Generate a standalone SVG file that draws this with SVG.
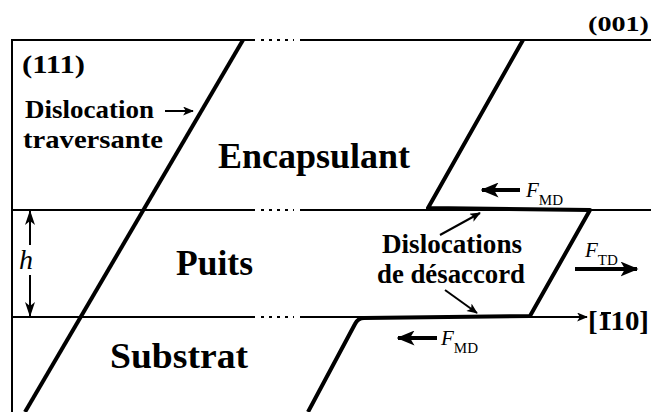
<svg xmlns="http://www.w3.org/2000/svg" width="651" height="412" viewBox="0 0 651 412">
<style>
.thin{stroke:#000;stroke-width:2;fill:none}
.dot{stroke:#000;stroke-width:2;fill:none;stroke-dasharray:3 5}
.disl{stroke:#000;stroke-width:4;fill:none;stroke-linejoin:round}
text{font-family:'Liberation Serif',serif}
.t{font-weight:bold;fill:#000}
.i{font-style:italic;fill:#000}
.s{fill:#000}
.force{stroke:#000;stroke-width:4;fill:none}
</style>
<defs>
<marker id="ah" viewBox="0 0 12 10" refX="11" refY="5" markerWidth="11" markerHeight="9" markerUnits="userSpaceOnUse" orient="auto"><path d="M0,0 L12,5 L0,10 L3,5 z" fill="#000"/></marker>
<marker id="ahb" viewBox="0 0 12 10" refX="11" refY="5" markerWidth="18" markerHeight="15" markerUnits="userSpaceOnUse" orient="auto"><path d="M0,0 L12,5 L0,10 L3,5 z" fill="#000"/></marker>
<marker id="ahn" viewBox="0 0 15 10" refX="14" refY="5" markerWidth="15" markerHeight="10" markerUnits="userSpaceOnUse" orient="auto"><path d="M0,0 L15,5 L0,10 L4,5 z" fill="#000"/></marker>
</defs>
<g id="frame">
<line class="thin" x1="12" y1="39" x2="12" y2="412"/>
<line class="thin" x1="11" y1="40" x2="255" y2="40"/>
<line class="dot" x1="261" y1="40" x2="294" y2="40"/>
<line class="thin" x1="300" y1="40" x2="651" y2="40"/>
<line class="thin" x1="11" y1="210" x2="255" y2="210"/>
<line class="dot" x1="261" y1="210" x2="294" y2="210"/>
<line class="thin" x1="300" y1="210" x2="651" y2="210"/>
<line class="thin" x1="11" y1="317" x2="255" y2="317"/>
<line class="dot" x1="261" y1="317" x2="294" y2="317"/>
<line class="thin" x1="300" y1="317" x2="587" y2="317" marker-end="url(#ah)"/>
</g>
<g id="dislocations">
<line class="disl" x1="243" y1="40" x2="25" y2="412"/>
<path class="disl" d="M523,40 L428,208 L590,210 L530,316 L364,318 Q358,318 355,324 L308,412"/>
</g>
<g id="connectors">
<line class="thin" x1="165" y1="111" x2="193" y2="111" marker-end="url(#ah)"/>
<line class="thin" x1="440" y1="235" x2="480" y2="213" marker-end="url(#ah)"/>
<line class="thin" x1="445" y1="290" x2="477" y2="313" marker-end="url(#ah)"/>
<line class="thin" x1="30" y1="245" x2="30" y2="211" marker-end="url(#ahn)"/>
<line class="thin" x1="30" y1="275" x2="30" y2="316" marker-end="url(#ahn)"/>
<line class="force" x1="520" y1="190" x2="482" y2="190" marker-end="url(#ahb)"/>
<line class="force" x1="437" y1="338" x2="398" y2="338" marker-end="url(#ahb)"/>
<line class="force" x1="575" y1="269" x2="637" y2="269" marker-end="url(#ahb)"/>
</g>
<g id="labels">
<text class="t" x="588" y="31" font-size="21" textLength="61" lengthAdjust="spacingAndGlyphs">(001)</text>
<text class="t" x="22" y="73" font-size="26" textLength="63" lengthAdjust="spacingAndGlyphs">(111)</text>
<text class="t" x="25" y="118" font-size="26" textLength="129" lengthAdjust="spacingAndGlyphs">Dislocation</text>
<text class="t" x="23" y="148" font-size="26" textLength="140" lengthAdjust="spacingAndGlyphs">traversante</text>
<text class="t" x="218" y="168" font-size="35" textLength="192" lengthAdjust="spacingAndGlyphs">Encapsulant</text>
<text class="t" x="176" y="275" font-size="35" textLength="77" lengthAdjust="spacingAndGlyphs">Puits</text>
<text class="t" x="110" y="368" font-size="35" textLength="138" lengthAdjust="spacingAndGlyphs">Substrat</text>
<text class="t" x="382" y="253" font-size="27" textLength="140" lengthAdjust="spacingAndGlyphs">Dislocations</text>
<text class="t" x="377" y="283" font-size="27" textLength="148" lengthAdjust="spacingAndGlyphs">de désaccord</text>
<text class="i" x="19" y="269" font-size="28">h</text>
<text class="t" x="588" y="330" font-size="27" textLength="61" lengthAdjust="spacingAndGlyphs">[110]</text>
<line x1="601" y1="313" x2="611" y2="313" stroke="#000" stroke-width="2"/>
<text x="526" y="197"><tspan class="i" font-size="21">F</tspan><tspan class="s" font-size="15" dy="8">MD</tspan></text>
<text x="441" y="345"><tspan class="i" font-size="21">F</tspan><tspan class="s" font-size="15" dy="8">MD</tspan></text>
<text x="585" y="257"><tspan class="i" font-size="21">F</tspan><tspan class="s" font-size="15" dy="8">TD</tspan></text>
</g>
</svg>
